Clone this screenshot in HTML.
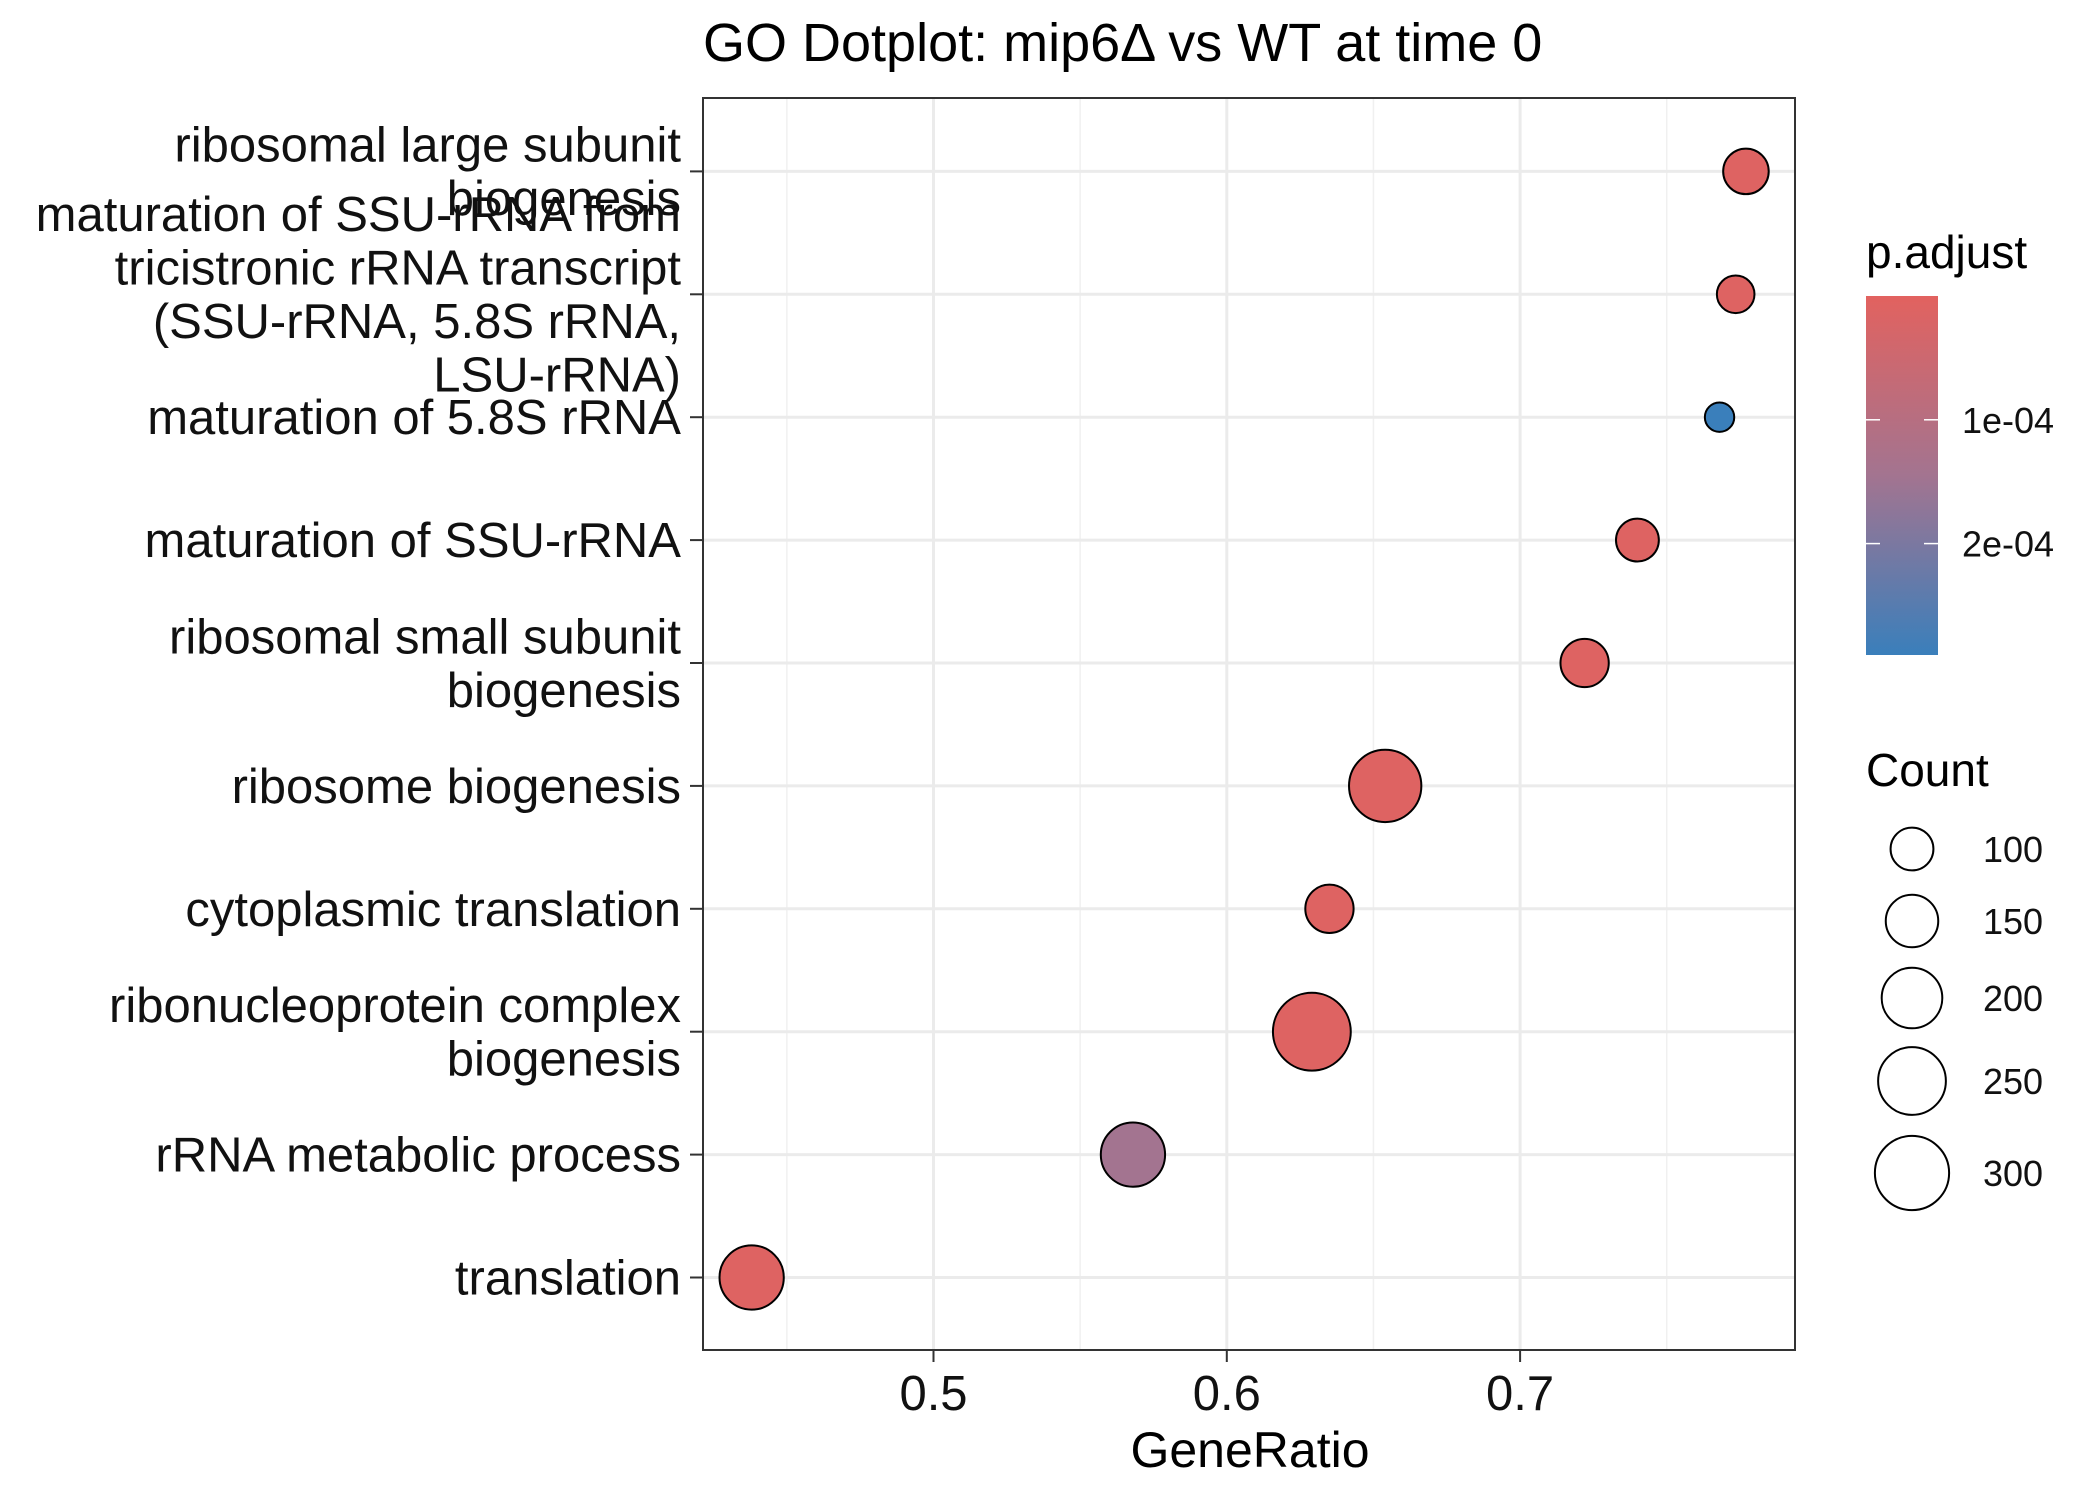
<!DOCTYPE html>
<html><head><meta charset="utf-8">
<style>
html,body{margin:0;padding:0;background:#fff;}
svg{display:block;font-family:"Liberation Sans",Arial,sans-serif;}
</style></head>
<body>
<svg id="chart" width="2100" height="1500" viewBox="0 0 2100 1500">
<defs>
<linearGradient id="cbar" x1="0" y1="0" x2="0" y2="1">
<stop offset="0" stop-color="#E2625F"/>
<stop offset="0.5" stop-color="#A37490"/>
<stop offset="1" stop-color="#3A7FBB"/>
</linearGradient>
</defs>
</svg>
<script>
const categories = ["ribosomal large subunit|biogenesis","maturation of SSU-rRNA from|tricistronic rRNA transcript|(SSU-rRNA, 5.8S rRNA,|LSU-rRNA)","maturation of 5.8S rRNA","maturation of SSU-rRNA","ribosomal small subunit|biogenesis","ribosome biogenesis","cytoplasmic translation","ribonucleoprotein complex|biogenesis","rRNA metabolic process","translation"];
const geneRatio = [0.777,0.7735,0.768,0.740,0.722,0.654,0.635,0.629,0.568,0.438];
const counts = [113,77,47,100,127,285,127,330,225,225];
const padj = [0.00001,0.00001,0.00029,0.00001,0.00001,0.00001,0.00001,0.00001,0.000145,0.00001];
const xTicks = [0.5,0.6,0.7];
const xMinor = [0.45,0.55,0.65,0.75];
const cbTicks = [0.0001,0.0002];
const cbLabels = ["1e-04","2e-04"];
const sizeBreaks = [100,150,200,250,300];

const NS="http://www.w3.org/2000/svg";
const svg=document.getElementById('chart');
function mk(tag,attrs,parent){const e=document.createElementNS(NS,tag);for(const k in attrs)e.setAttribute(k,attrs[k]);(parent||svg).appendChild(e);return e;}
const PL=703,PR=1795,PT=98,PB=1350;
const xs=v=>933.5+(v-0.5)*2933;
const ys=i=>171.4+i*122.9;
const rs=c=>Math.sqrt(4.59*c);
const pMin=0,pMax=0.00029;
function colorFor(p){const t=Math.max(0,Math.min(1,(p-pMin)/(pMax-pMin)));
 const a=[226,98,95],m=[163,116,144],b=[58,127,187];
 let c;if(t<0.5){const u=t/0.5;c=a.map((v,k)=>v+(m[k]-v)*u);}else{const u=(t-0.5)/0.5;c=m.map((v,k)=>v+(b[k]-v)*u);}
 return `rgb(${c.map(Math.round).join(',')})`;}

// title
let t=mk('text',{x:PL,y:61,'font-size':54,fill:'#000'});t.textContent='GO Dotplot: mip6Δ vs WT at time 0';



// grid
xMinor.forEach(v=>{const l=mk('line',{x1:xs(v),x2:xs(v),y1:PT,y2:PB,stroke:'#f0f0f0','stroke-width':1.5});
 
 });
xTicks.forEach(v=>{const l=mk('line',{x1:xs(v),x2:xs(v),y1:PT,y2:PB,stroke:'#ebebeb','stroke-width':3});
 
 });
categories.forEach((c,i)=>{const l=mk('line',{x1:PL,x2:PR,y1:ys(i),y2:ys(i),stroke:'#ebebeb','stroke-width':3});
 
 });

// points
categories.forEach((c,i)=>{const p=mk('circle',{cx:xs(geneRatio[i]),cy:ys(i),r:rs(counts[i]),fill:colorFor(padj[i]),stroke:'#000','stroke-width':2});
 
 });

// panel border
const pb=mk('rect',{x:PL,y:PT,width:PR-PL,height:PB-PT,fill:'none',stroke:'#333','stroke-width':2});



// y labels
categories.forEach((c,i)=>{
 mk('line',{x1:690,x2:PL,y1:ys(i),y2:ys(i),stroke:'#333','stroke-width':2});
 const lines=c.split('|');const lh=53.5;
 const g=mk('text',{'font-size':49,'text-anchor':'end',fill:'#111'});
 
 
 lines.forEach((s,k)=>{const ts=mk('tspan',{x:681,y:ys(i)+17+(k-(lines.length-1)/2)*lh},g);ts.textContent=s;});
});

// x ticks
xTicks.forEach(v=>{mk('line',{x1:xs(v),x2:xs(v),y1:PB,y2:PB+12,stroke:'#333','stroke-width':2});
 const e=mk('text',{x:xs(v),y:1410,'font-size':49,'text-anchor':'middle',fill:'#111'});e.textContent=String(v);
 
 });
const xt=mk('text',{x:1250,y:1467,'font-size':50,'text-anchor':'middle',fill:'#000'});xt.textContent='GeneRatio';



// color legend
const pt=mk('text',{x:1866,y:268,'font-size':46,fill:'#000'});pt.textContent='p.adjust';


const CT=296,CB=655;
const cb=mk('rect',{x:1866,y:CT,width:72,height:CB-CT,fill:'url(#cbar)'});


const cy=p=>CT+(p-pMin)/(pMax-pMin)*(CB-CT);
cbTicks.forEach((p,k)=>{const y=cy(p);
 mk('line',{x1:1866,x2:1880,y1:y,y2:y,stroke:'#fff','stroke-width':1.5});
 mk('line',{x1:1924,x2:1938,y1:y,y2:y,stroke:'#fff','stroke-width':1.5});
 const e=mk('text',{x:1962,y:y+13,'font-size':36,fill:'#111'});e.textContent=cbLabels[k];
 
 });

// size legend
const ct=mk('text',{x:1866,y:786,'font-size':46,fill:'#000'});ct.textContent='Count';


const sy=[849,921,998,1081,1173];
sizeBreaks.forEach((c,k)=>{const e=mk('circle',{cx:1912,cy:sy[k],r:rs(c),fill:'none',stroke:'#000','stroke-width':2});
 
 
 const l=mk('text',{x:1983,y:sy[k]+13,'font-size':36,fill:'#111'});l.textContent=String(c);
 
 });
</script>
</body></html>
